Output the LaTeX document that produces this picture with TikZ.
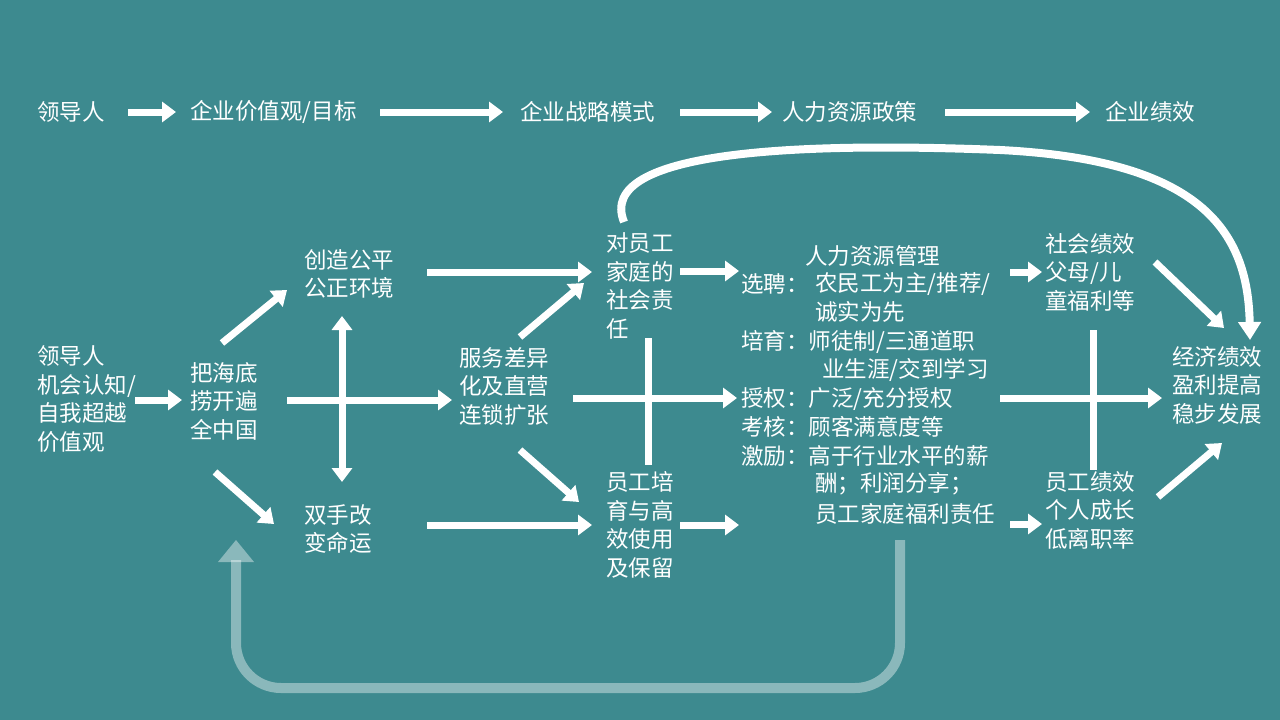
\documentclass[tikz,border=0pt]{standalone}
\usepackage{fontspec}
\setmainfont{Noto Sans CJK SC}
\usetikzlibrary{arrows.meta}
\definecolor{bg}{HTML}{3D8A8F}
\begin{document}
\begin{tikzpicture}[x=1pt,y=-1pt,
  t/.style={anchor=west,text=white,font=\fontsize{22.5}{28.5}\selectfont,inner sep=0pt,align=left},
  ar/.style={draw=white,line width=7pt,-{Triangle[length=14pt,width=20pt]}},
  dar/.style={draw=white,line width=7pt,{Triangle[length=14pt,width=20pt]}-{Triangle[length=14pt,width=20pt]}},
  ln/.style={draw=white,line width=7pt}]
\fill[bg] (0,0) rectangle (1280,720);
\useasboundingbox (0,0) rectangle (1280,720);
% top row
\node[t] (a1) at (37,112) {领导人};
\node[t] (a2) at (190,112) {企业价值观/目标};
\node[t] (a3) at (520,112) {企业战略模式};
\node[t] (a4) at (782,112) {人力资源政策};
\node[t] (a5) at (1105,112) {企业绩效};
\coordinate (p1) at (128,112);\coordinate (q1) at (176,112);
\coordinate (p2) at (380,112);\coordinate (q2) at (503,112);
\coordinate (p3) at (680,112);\coordinate (q3) at (772,112);
\coordinate (p4) at (945,112);\coordinate (q4) at (1090,112);
\draw[ar] (p1)--(q1); \draw[ar] (p2)--(q2); \draw[ar] (p3)--(q3); \draw[ar] (p4)--(q4);
% left
\node[t] (b1) at (37,399) {领导人\\机会认知/\\自我超越\\价值观};
\node[t] (b2) at (190,401) {把海底\\捞开遍\\全中国};
\node[t] (c1) at (304,274) {创造公平\\公正环境};
\node[t] (c2) at (304,529) {双手改\\变命运};
\node[t] (d1) at (459,386) {服务差异\\化及直营\\连锁扩张};
\node[t] (e1) at (606,286) {对员工\\家庭的\\社会责\\任};
\node[t] (e2) at (606,525) {员工培\\育与高\\效使用\\及保留};
\draw[ar] (135,400)--(182,400);
\draw[ar] (222,343)--(287,290);
\draw[ar] (215,472)--(274,524);
\draw[ar] (287,400)--(452,400);
\draw[dar] (342,316)--(342,482);
\draw[ar] (427,272)--(592,272);
\draw[ar] (427,525)--(592,525);
\draw[ar] (520,337)--(584,283);
\draw[ar] (520,450)--(579,502);
\draw[ar] (573,398)--(737,398);
\draw[ln] (648,338)--(648,465);
\draw[ar] (680,271)--(739,271);
\draw[ar] (680,525)--(739,525);
% HR
\node[t] at (805,256) {人力资源管理};
\node[t] at (741,284) {选聘：};
\node[t] at (815,284) {农民工为主/推荐/};
\node[t] at (815,312) {诚实为先};
\node[t] at (741,342) {培育：师徒制/三通道职};
\node[t] at (822,370) {业生涯/交到学习};
\node[t] at (741,399) {授权：广泛/充分授权};
\node[t] at (741,427) {考核：顾客满意度等};
\node[t] at (741,456) {激励：高于行业水平的薪};
\node[t] at (815,484) {酬；利润分享；};
\node[t] at (815,514) {员工家庭福利责任};
\draw[ar] (1010,272)--(1042,272);
\draw[ar] (1010,524)--(1042,524);
\node[t] (f1) at (1045,272) {社会绩效\\父母/儿\\童福利等};
\node[t] (f2) at (1045,510) {员工绩效\\个人成长\\低离职率};
\draw[ar] (1000,398)--(1162,398);
\draw[ln] (1093,330)--(1093,470);
\draw[ar] (1155,262)--(1224,328);
\draw[ar] (1158,497)--(1222,443);
\node[t] (g1) at (1172,385) {经济绩效\\盈利提高\\稳步发展};
% big curve
\draw[draw=white,line width=8pt,-{Triangle[length=18pt,width=22pt]}] (624,222) .. controls (595,150) and (800,142) .. (1000,150) .. controls (1200,160) and (1248,230) .. (1250,340);
% feedback
\draw[draw=white,draw opacity=0.4,line width=10pt,rounded corners=45pt] (900,540)--(900,688)--(236,688)--(236,560);
\fill[white,opacity=0.4] (218,562)--(254,562)--(236,540)--cycle;
\end{tikzpicture}
\end{document}
